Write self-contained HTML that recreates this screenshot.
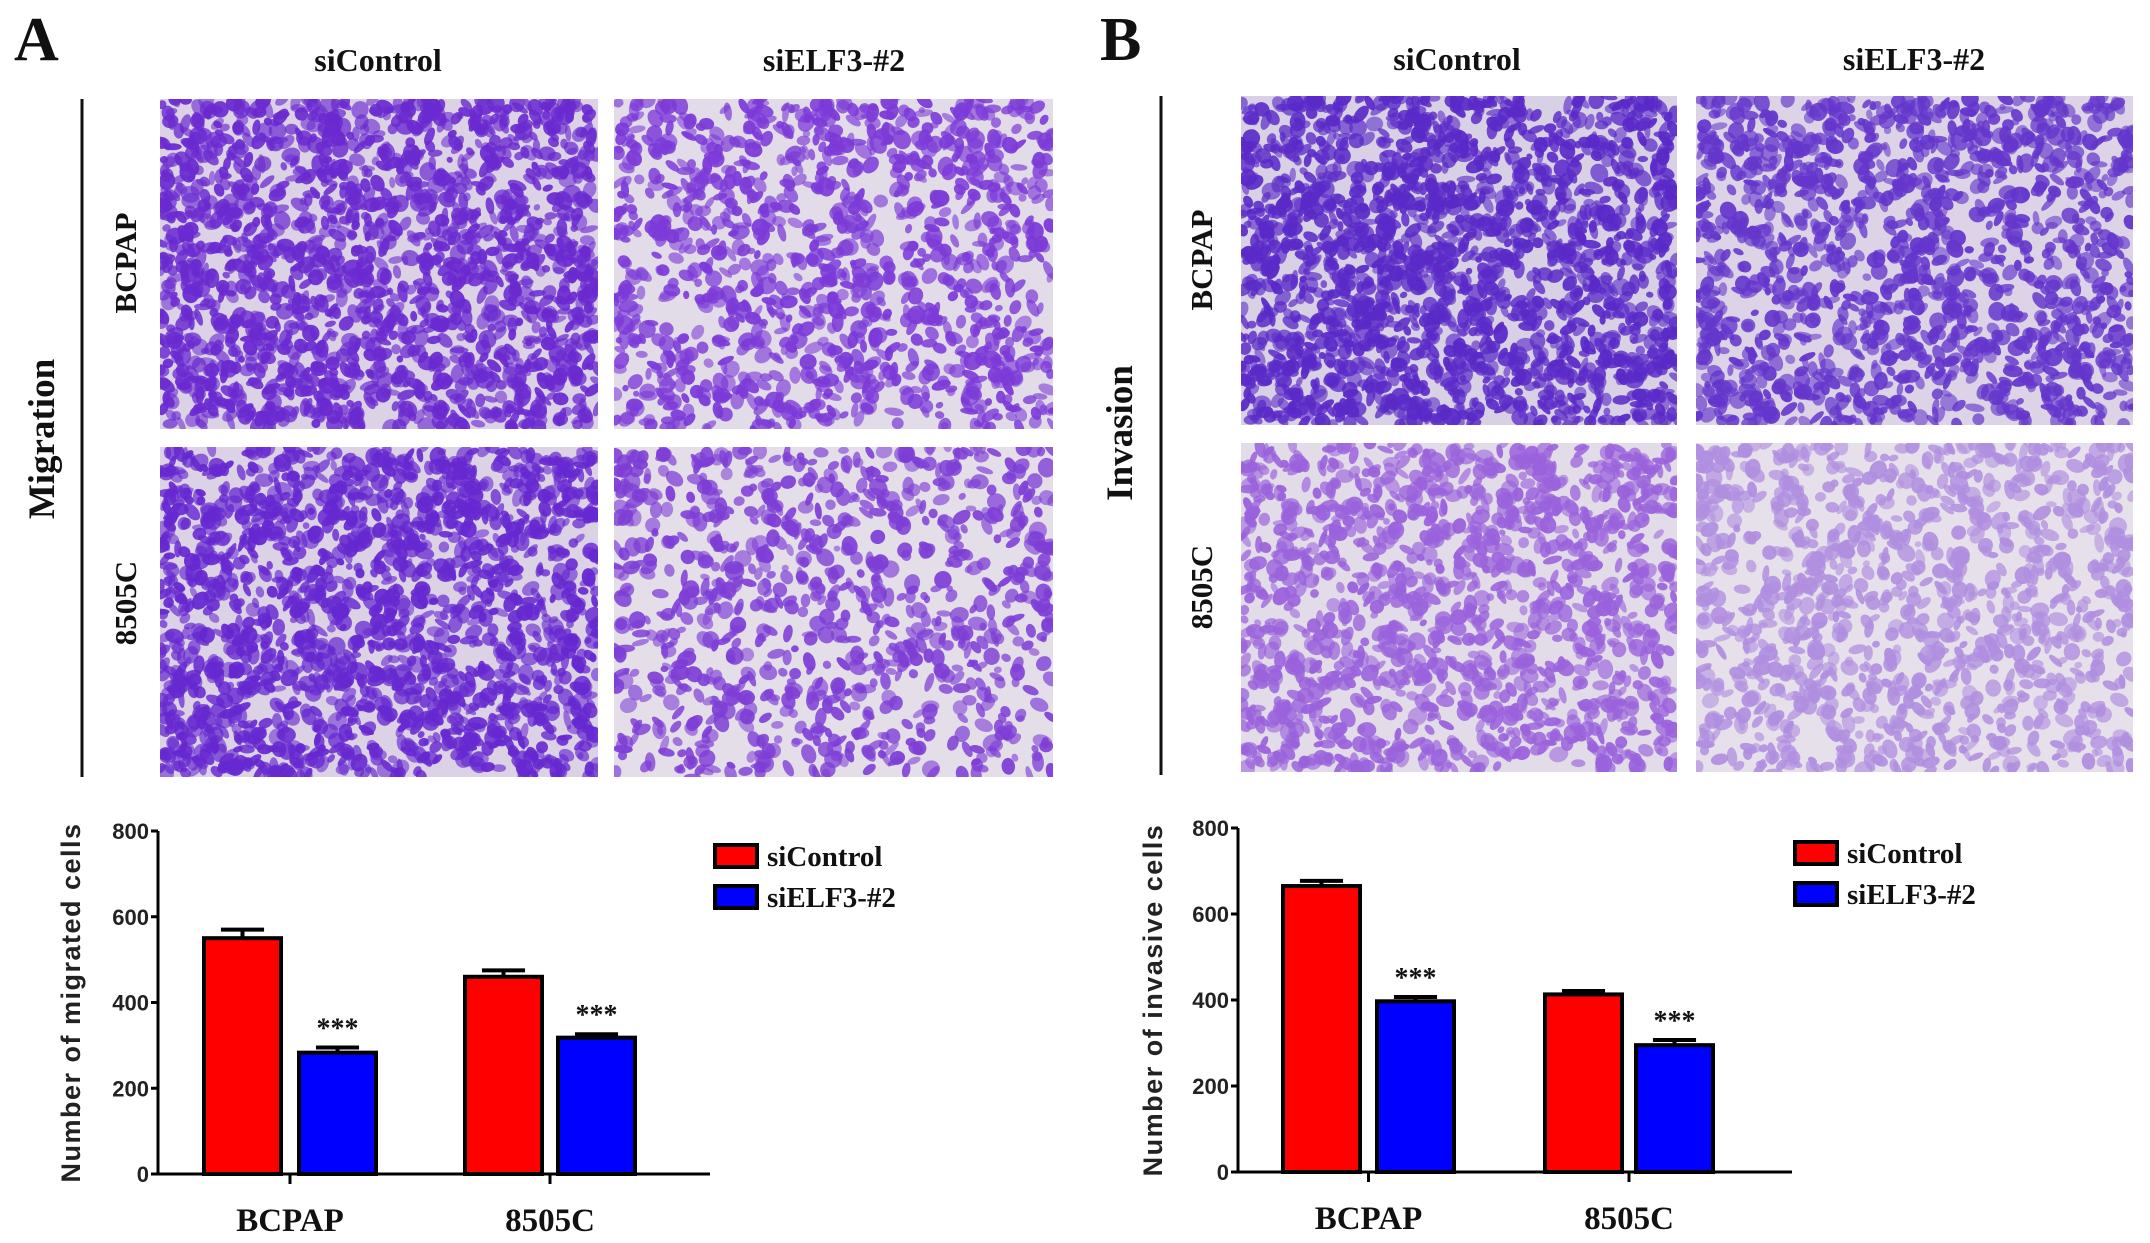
<!DOCTYPE html>
<html><head><meta charset="utf-8"><style>
html,body{margin:0;padding:0;background:#fff;width:2150px;height:1243px;overflow:hidden}
svg{display:block}
.ser{font-family:"Liberation Serif",serif;font-weight:bold;fill:#111}
.san{font-family:"Liberation Sans",sans-serif;font-weight:bold;fill:#222}
</style></head><body>
<svg id="fig" width="2150" height="1243" viewBox="0 0 2150 1243" xmlns="http://www.w3.org/2000/svg">
<g id="photos"></g>
<text x="14" y="60" class="ser" font-size="62">A</text>
<text x="1100" y="60" class="ser" font-size="62">B</text>
<text x="378" y="71" class="ser" font-size="32" text-anchor="middle">siControl</text>
<text x="834" y="71" class="ser" font-size="32" text-anchor="middle">siELF3-#2</text>
<text x="1457" y="70" class="ser" font-size="32" text-anchor="middle">siControl</text>
<text x="1914" y="70" class="ser" font-size="32" text-anchor="middle">siELF3-#2</text>
<line x1="82" y1="99" x2="82" y2="777" stroke="#111" stroke-width="3"/>
<line x1="1161" y1="96" x2="1161" y2="775" stroke="#111" stroke-width="3"/>
<text transform="translate(54,439) rotate(-90)" class="ser" font-size="37" text-anchor="middle">Migration</text>
<text transform="translate(1132,433) rotate(-90)" class="ser" font-size="37" text-anchor="middle">Invasion</text>
<text transform="translate(136,263) rotate(-90)" class="ser" font-size="31" text-anchor="middle">BCPAP</text>
<text transform="translate(136,603) rotate(-90)" class="ser" font-size="31" text-anchor="middle">8505C</text>
<text transform="translate(1212,260) rotate(-90)" class="ser" font-size="31" text-anchor="middle">BCPAP</text>
<text transform="translate(1212,587) rotate(-90)" class="ser" font-size="31" text-anchor="middle">8505C</text>
<g id="chartA"></g>
<g id="chartB"></g>
</svg>
<script>
// ---- chart data ----
const categories = ["BCPAP", "8505C"];
const seriesNames = ["siControl", "siELF3-#2"];
const migControl = [550, 460];
const migElf3 = [283, 318];
const migControlErr = [20, 15];
const migElf3Err = [12, 8];
const invControl = [665, 413];
const invElf3 = [397, 295];
const invControlErr = [12, 8];
const invElf3Err = [10, 12];
const yTicks = [0, 200, 400, 600, 800];
const sigLabels = ["***", "***"];

const NS = "http://www.w3.org/2000/svg";
function mk(tag, attrs, parent) {
  const e = document.createElementNS(NS, tag);
  for (const k in attrs) e.setAttribute(k, attrs[k]);
  parent.appendChild(e);
  return e;
}

// ---- micrographs (decorative texture) ----
let seed = 12345;
function rnd() { seed = (seed * 1103515245 + 12345) & 0x7fffffff; return seed / 0x7fffffff; }
const photoG = document.getElementById('photos');
const panels = [
  {x:160,y:99,w:438,h:330,n:1700,c:"#6a2ad0",bg:"#dcd2e6",name:"photo-migration-bcpap-sicontrol"},
  {x:614,y:99,w:439,h:330,n:1150,c:"#7c3ad8",bg:"#e2dbe8",name:"photo-migration-bcpap-sielf3"},
  {x:160,y:447,w:438,h:330,n:1700,c:"#6628d0",bg:"#dcd2e6",name:"photo-migration-8505c-sicontrol"},
  {x:614,y:447,w:439,h:330,n:900,c:"#7e3ed6",bg:"#e4dee8",name:"photo-migration-8505c-sielf3"},
  {x:1241,y:96,w:436,h:329,n:1800,c:"#5a2ac8",bg:"#d8d0e4",name:"photo-invasion-bcpap-sicontrol"},
  {x:1696,y:96,w:437,h:329,n:1350,c:"#6436cc",bg:"#dcd4e6",name:"photo-invasion-bcpap-sielf3"},
  {x:1241,y:443,w:436,h:329,n:1300,c:"#9a62dc",bg:"#e2dbe8",name:"photo-invasion-8505c-sicontrol"},
  {x:1696,y:443,w:437,h:329,n:1100,c:"#b08ee0",bg:"#e6e0ea",name:"photo-invasion-8505c-sielf3"}
];
panels.forEach(p => {
  const g = mk('g', {}, photoG);
  
  
  mk('rect', {x:p.x, y:p.y, width:p.w, height:p.h, fill:p.bg}, g);
  const cp = 'clip' + p.name;
  const cl = mk('clipPath', {id:cp}, g);
  mk('rect', {x:p.x, y:p.y, width:p.w, height:p.h}, cl);
  const inner = mk('g', {'clip-path':'url(#'+cp+')'}, g);
  for (let i = 0; i < p.n; i++) {
    const cx = p.x + rnd()*p.w, cy = p.y + rnd()*p.h;
    mk('ellipse', {cx:cx.toFixed(1), cy:cy.toFixed(1), rx:(3+rnd()*7).toFixed(1), ry:(3+rnd()*6).toFixed(1),
      transform:'rotate('+Math.floor(rnd()*180)+' '+cx.toFixed(1)+' '+cy.toFixed(1)+')',
      fill:p.c, 'fill-opacity':(0.55+rnd()*0.4).toFixed(2)}, inner);
  }
});

// ---- bar charts ----
function drawChart(gid, cfg) {
  const g = document.getElementById(gid);
  const yScale = v => cfg.y0 - (v / 800) * (cfg.y0 - cfg.y800);
  const series = [cfg.ctrl, cfg.elf];
  const errs = [cfg.ctrlErr, cfg.elfErr];
  const colors = ["#ff0000", "#0000ff"];
  categories.forEach((cat, ci) => {
    series.forEach((s, si) => {
      const x = cfg.barX[ci][si];
      const top = yScale(s[ci]);
      const eTop = yScale(s[ci] + errs[si][ci]);
      const cx = x + cfg.barW/2;
      const el = mk('line', {x1:cx, y1:top, x2:cx, y2:eTop, stroke:'#000', 'stroke-width':4}, g);
      
      
      const cap = mk('line', {x1:cx-cfg.barW*0.28, y1:eTop, x2:cx+cfg.barW*0.28, y2:eTop, stroke:'#000', 'stroke-width':4}, g);
      
      
      const r = mk('rect', {x:x, y:top, width:cfg.barW, height:yScale(0)-top, fill:colors[si], stroke:'#000', 'stroke-width':4}, g);
      
      
      if (si === 1) {
        const t = mk('text', {x:cx, y:eTop-10, 'text-anchor':'middle', 'font-size':28, class:'ser'}, g);
        t.textContent = sigLabels[ci];
        
        
      }
    });
    const tc = (cfg.barX[ci][0] + cfg.barX[ci][1] + cfg.barW) / 2;
    const tk = mk('line', {x1:tc, y1:yScale(0), x2:tc, y2:yScale(0)+10, stroke:'#000', 'stroke-width':3}, g);
    
    
    const lt = mk('text', {x:tc, y:cfg.y0+57, 'text-anchor':'middle', 'font-size':33, class:'ser'}, g);
    lt.textContent = cat;
    
    
  });
  const ya = mk('line', {x1:cfg.ax, y1:cfg.y800, x2:cfg.ax, y2:cfg.y0, stroke:'#000', 'stroke-width':3}, g);
  
  
  const xa = mk('line', {x1:cfg.ax, y1:cfg.y0, x2:cfg.axEnd, y2:cfg.y0, stroke:'#000', 'stroke-width':3}, g);
  
  
  yTicks.forEach(v => {
    const ty = yScale(v);
    const tl = mk('line', {x1:cfg.ax-7, y1:ty, x2:cfg.ax, y2:ty, stroke:'#000', 'stroke-width':3}, g);
    
    
    const tt = mk('text', {x:cfg.ax-9, y:ty+8, 'text-anchor':'end', 'font-size':22, class:'san'}, g);
    tt.textContent = v;
    
    
  });
  const yt = mk('text', {transform:'translate('+cfg.titleX+','+((cfg.y0+cfg.y800)/2)+') rotate(-90)', 'text-anchor':'middle', 'font-size':27, class:'san', 'letter-spacing':'1.5'}, g);
  yt.textContent = cfg.title;
  
  
  seriesNames.forEach((nm, si) => {
    const ly = cfg.legY + si*41;
    const sw = mk('rect', {x:cfg.legX, y:ly, width:42, height:22, fill:colors[si], stroke:'#000', 'stroke-width':4}, g);
    
    
    const lt = mk('text', {x:cfg.legX+52, y:ly+21, 'font-size':29, class:'ser'}, g);
    lt.textContent = nm;
    
    
  });
}
drawChart('chartA', {y0:1174, y800:831, ax:158, axEnd:710, barW:77,
  barX:[[204,299],[465,558]], ctrl:migControl, elf:migElf3, ctrlErr:migControlErr, elfErr:migElf3Err,
  titleX:80, title:"Number of migrated cells", legX:715, legY:845});
drawChart('chartB', {y0:1172, y800:828, ax:1238, axEnd:1792, barW:77,
  barX:[[1283,1377],[1545,1636]], ctrl:invControl, elf:invElf3, ctrlErr:invControlErr, elfErr:invElf3Err,
  titleX:1162, title:"Number of invasive cells", legX:1795, legY:842});
</script>
</body></html>
